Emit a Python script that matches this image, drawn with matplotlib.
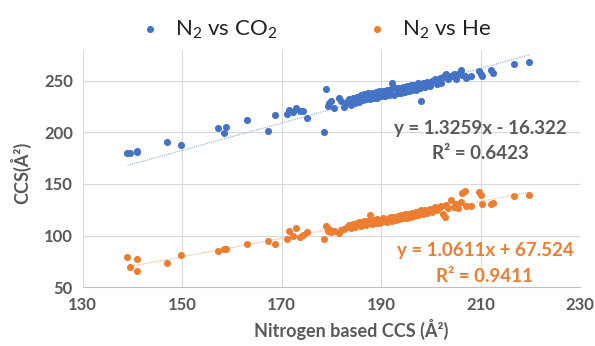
import matplotlib
matplotlib.use("Agg")
import matplotlib.pyplot as plt
import numpy as np

# ── Data ─────────────────────────────────────────────────────────────────────
n2_ccs = [
    139.0, 139.5, 140.9, 140.9, 146.9, 149.7, 157.1, 158.5, 158.9, 163.1,
    167.3, 168.7, 171.0, 171.5, 172.2, 172.8, 173.6, 174.2, 175.0, 178.5,
    179.0, 179.3, 179.6, 180.0, 180.5, 181.5,
    182.0, 182.6, 183.1, 183.5, 184.0, 184.3, 184.8, 185.2, 185.5, 185.9,
    186.3, 186.6, 187.0, 187.4, 187.8, 188.1, 188.5, 188.9, 189.2, 189.6,
    190.0, 190.3, 190.8, 191.1, 191.5, 191.9, 192.1, 192.5, 192.9, 193.3,
    193.6, 194.0, 194.4, 194.8, 195.1, 195.5, 195.9, 196.2, 196.6, 197.0,
    197.5, 197.9, 198.0, 198.4, 198.9, 199.3, 199.8, 200.2, 200.8, 201.3,
    201.8, 202.1, 202.5, 202.8, 203.1, 203.5, 204.1, 204.6, 205.0, 205.5,
    206.0, 206.3, 206.9, 207.0, 208.1, 209.6, 210.1, 210.3, 212.1, 212.5,
    216.8, 219.8,
]
co2_ccs = [
    179.6, 180.5, 182.0, 181.0, 190.2, 187.3, 203.8, 199.0, 205.0, 211.8,
    200.9, 217.3, 218.0, 222.0, 220.0, 224.0, 221.0, 221.0, 214.4, 200.5,
    241.8, 226.0, 228.0, 230.0, 224.0, 233.0,
    230.0, 225.0, 229.0, 232.0, 227.0, 233.0, 228.0, 234.0, 229.0, 236.0,
    231.0, 237.0, 232.0, 238.0, 232.0, 238.0, 233.0, 239.0, 233.0, 240.0,
    235.0, 240.0, 235.0, 241.0, 236.0, 242.0, 248.0, 236.0, 243.0, 238.0,
    243.0, 238.0, 244.0, 239.0, 245.0, 240.0, 246.0, 241.0, 246.0, 241.0,
    248.0, 243.0, 230.0, 248.0, 244.0, 249.0, 245.0, 250.0, 252.0, 247.0,
    253.0, 248.0, 254.0, 256.0, 257.0, 252.0, 255.0, 257.0, 252.0, 257.0,
    260.0, 256.0, 255.0, 253.0, 255.0, 259.0, 257.0, 255.0, 260.0, 258.0,
    266.0, 268.0,
]
he_ccs = [
    79.6, 69.9, 77.4, 65.8, 73.8, 80.9, 85.4, 86.7, 86.7, 92.2,
    94.8, 92.2, 97.0, 104.0, 100.0, 107.0, 99.0, 101.0, 103.2, 97.0,
    109.0, 104.0, 106.0, 103.0, 104.0, 102.8,
    105.0, 106.0, 108.0, 110.0, 107.0, 111.0, 108.0, 112.0, 113.0, 109.0,
    113.0, 114.0, 110.0, 114.0, 120.0, 111.0, 115.0, 112.0, 116.0, 112.0,
    113.0, 117.0, 114.0, 113.0, 117.0, 118.0, 114.0, 118.0, 115.0, 119.0,
    116.0, 120.0, 117.0, 121.0, 117.0, 121.0, 118.0, 122.0, 119.0, 123.0,
    120.0, 124.0, 125.0, 121.0, 125.0, 122.0, 126.0, 123.0, 128.0, 125.0,
    128.0, 129.0, 121.0, 118.0, 130.0, 127.0, 134.0, 128.0, 131.0, 127.0,
    133.0, 141.0, 143.0, 129.0, 129.0, 142.0, 139.0, 131.0, 131.0, 132.0,
    138.0, 139.0,
]
co2_fit = (1.3259, -16.322)   # trendline as labelled on the chart
labels = [r"N$\mathregular{_2}$ vs CO$\mathregular{_2}$", r"N$\mathregular{_2}$ vs He"]
eq_co2 = ["y = 1.3259x - 16.322", "R² = 0.6423"]
eq_he = ["y = 1.0611x + 67.524", "R² = 0.9411"]

# ── Style ────────────────────────────────────────────────────────────────────
BLUE = "#4472C4"
ORANGE = "#ED7D31"
GREY = "#595959"
GRID = "#D9D9D9"
plt.rcParams["font.family"] = ["Lato", "DejaVu Sans"]
plt.rcParams["mathtext.fontset"] = "custom"
plt.rcParams["mathtext.rm"] = "Lato"

fig = plt.figure(figsize=(5.95, 3.46), dpi=100)
ax = fig.add_axes([0.139, 0.170, 0.836, 0.686])

x = np.array(n2_ccs)
ax.scatter(x, co2_ccs, s=26, color=BLUE, zorder=3, linewidths=0, label=labels[0])
ax.scatter(x, he_ccs, s=26, color=ORANGE, zorder=3, linewidths=0, label=labels[1])

# trendlines (dotted, thin)
xs = np.array([x.min(), x.max()])
ax.plot(xs, co2_fit[0] * xs + co2_fit[1], color="#8FAADC", lw=0.8, ls=(0, (1, 1)), zorder=2)
he_fit = np.polyfit(x, he_ccs, 1)
ax.plot(xs, np.polyval(he_fit, xs), color="#F4B183", lw=0.8, ls=(0, (1, 1)), zorder=2)

ax.set_xlim(130, 230)
ax.set_ylim(50, 280)
ax.set_xticks(range(130, 231, 20))
ax.set_yticks(range(50, 251, 50))
ax.grid(True, color=GRID, lw=0.8, zorder=0)
for s in ["top", "right", "left"]:
    ax.spines[s].set_visible(False)
ax.spines["bottom"].set_color("#BFBFBF")
ax.tick_params(length=0, colors=GREY, labelsize=12, pad=7)
for lab in ax.get_xticklabels() + ax.get_yticklabels():
    lab.set_fontweight("bold")

fig.text(0.035, 0.50, "CCS(Å²)", rotation=90, ha="center", va="center",
         color=GREY, fontsize=13, fontweight="bold")
fig.text(0.59, 0.048, "Nitrogen based CCS (Å²)", ha="center", va="center",
         color=GREY, fontsize=13, fontweight="bold")

# equations
ax.text(0.808, 0.630, eq_co2[0], transform=fig.transFigure, ha="center", va="center",
        color=GREY, fontsize=13.5, fontweight="bold")
ax.text(0.808, 0.557, eq_co2[1], transform=fig.transFigure, ha="center", va="center",
        color=GREY, fontsize=13.5, fontweight="bold")
ax.text(0.815, 0.277, eq_he[0], transform=fig.transFigure, ha="center", va="center",
        color=ORANGE, fontsize=13.5, fontweight="bold")
ax.text(0.815, 0.200, eq_he[1], transform=fig.transFigure, ha="center", va="center",
        color=ORANGE, fontsize=13.5, fontweight="bold")

fig.legend(loc="center", bbox_to_anchor=(0.52, 0.915), ncol=2, frameon=False,
           fontsize=16, markerscale=1.0, handletextpad=0.1, columnspacing=3.5,
           labelcolor="#222222")

fig.savefig("out.png", dpi=100)
